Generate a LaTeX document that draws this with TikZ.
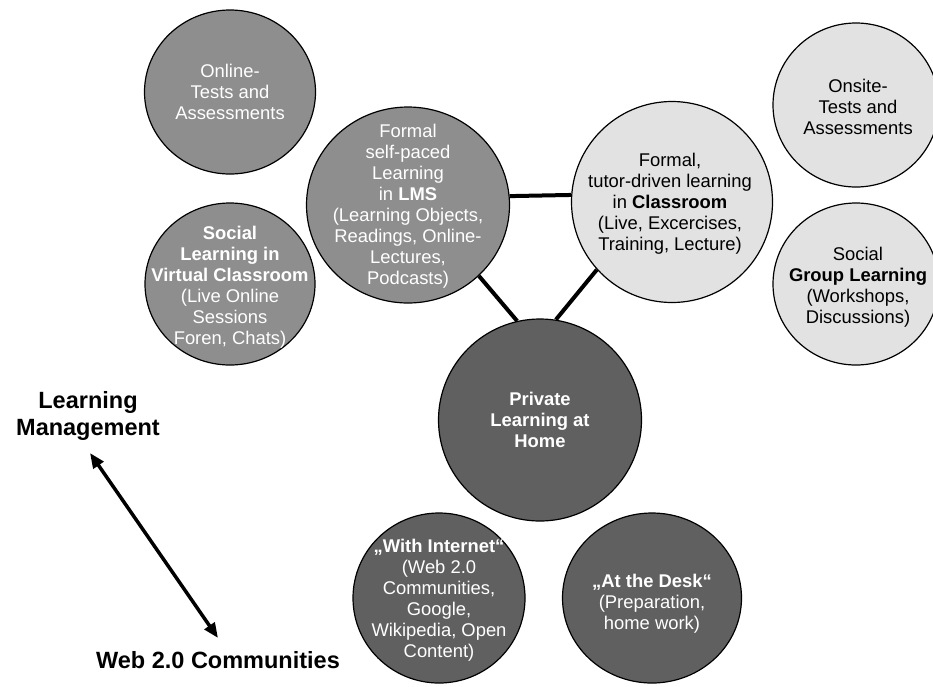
\documentclass[tikz,border=0pt]{standalone}
\usepackage{fontspec}
\setmainfont{Liberation Sans}
\usepackage{tikz}
\usetikzlibrary{shapes.geometric}
\usetikzlibrary{arrows.meta}
\definecolor{midgray}{RGB}{142,142,142}
\definecolor{palegray}{RGB}{226,226,226}
\definecolor{deepgray}{RGB}{95,96,95}
\def\linkwidth{4pt}
\def\rimwidth{1.2pt}
\tikzset{bubble/.style={draw, ellipse, line width=\rimwidth, inner sep=0pt}}
\tikzset{online/.style={bubble, fill=midgray}}
\tikzset{onsite/.style={bubble, fill=palegray}}
\tikzset{private/.style={bubble, fill=deepgray}}
\tikzset{btext/.style={align=center, inner sep=0pt, font=\fontsize{18.4}{21}\selectfont}}
\tikzset{wtext/.style={btext, text=white}}
\tikzset{bigtext/.style={align=center, inner sep=0pt, font=\fontsize{23.5}{27}\selectfont\bfseries}}
\tikzset{link/.style={line width=\linkwidth}}
\tikzset{twoway/.style={line width=3.5pt, {Triangle[length=15pt,width=12pt]}-{Triangle[length=15pt,width=12pt]}}}

\begin{document}
\begin{tikzpicture}[x=1pt, y=-1pt]
\useasboundingbox (0,0) rectangle (933,686);

\node (onl) [online, minimum width=171pt, minimum height=164pt] at (230,92) {};
\node (onlt) [wtext] at (230,92) {Online-\\Tests and\\Assessments};
\node (lms) [online, minimum width=203pt, minimum height=196pt] at (408,205) {};
\node (lmst) [wtext] at (408,206) {Formal\\self-paced\\Learning\\in \textbf{LMS}\\(Learning Objects,\\Readings, Online-\\Lectures,\\Podcasts)};
\node (vc) [online, minimum width=170pt, minimum height=162pt] at (230,284) {};
\node (vct) [wtext] at (230,287) {\textbf{Social}\\\textbf{Learning in}\\\textbf{Virtual Classroom}\\(Live Online\\Sessions\\Foren, Chats)};

\node (cls) [onsite, minimum width=201pt, minimum height=201pt] at (672,202) {};
\node (clst) [btext] at (670,204) {Formal,\\tutor-driven learning\\in \textbf{Classroom}\\(Live, Excercises,\\Training, Lecture)};
\node (ons) [onsite, minimum width=166pt, minimum height=164pt] at (856,105) {};
\node (onst) [btext] at (858,107) {Onsite-\\Tests and\\Assessments};
\node (grp) [onsite, minimum width=166pt, minimum height=162pt] at (856,284) {};
\node (grpt) [btext] at (858,287) {Social\\\textbf{Group Learning}\\(Workshops,\\Discussions)};

\node (home) [private, minimum width=203pt, minimum height=202pt] at (540,420) {};
\node (homet) [wtext, font=\fontsize{18.4}{21}\selectfont\bfseries] at (540,420) {Private\\Learning at\\Home};
\node (net) [private, minimum width=172pt, minimum height=170pt] at (439,598) {};
\node (nett) [wtext] at (439,600) {\textbf{„With Internet“}\\(Web 2.0\\Communities,\\Google,\\Wikipedia, Open\\Content)};
\node (desk) [private, minimum width=179pt, minimum height=170pt] at (652,598) {};
\node (deskt) [wtext] at (652,604) {\textbf{„At the Desk“}\\(Preparation,\\home work)};

\draw[link] (lms.5) -- (cls.176);
\draw[link] (lms.-45) -- (home.103);
\draw[link] (cls.-138) -- (home.81);

\node (lm) [bigtext] at (88,416) {Learning\\Management};
\node (wc) [bigtext] at (218,660) {Web 2.0 Communities};
\coordinate (lmtip) at (90,453);
\coordinate (wctip) at (218,638);
\draw[twoway] (lmtip) -- (wctip);
\end{tikzpicture}
\end{document}
